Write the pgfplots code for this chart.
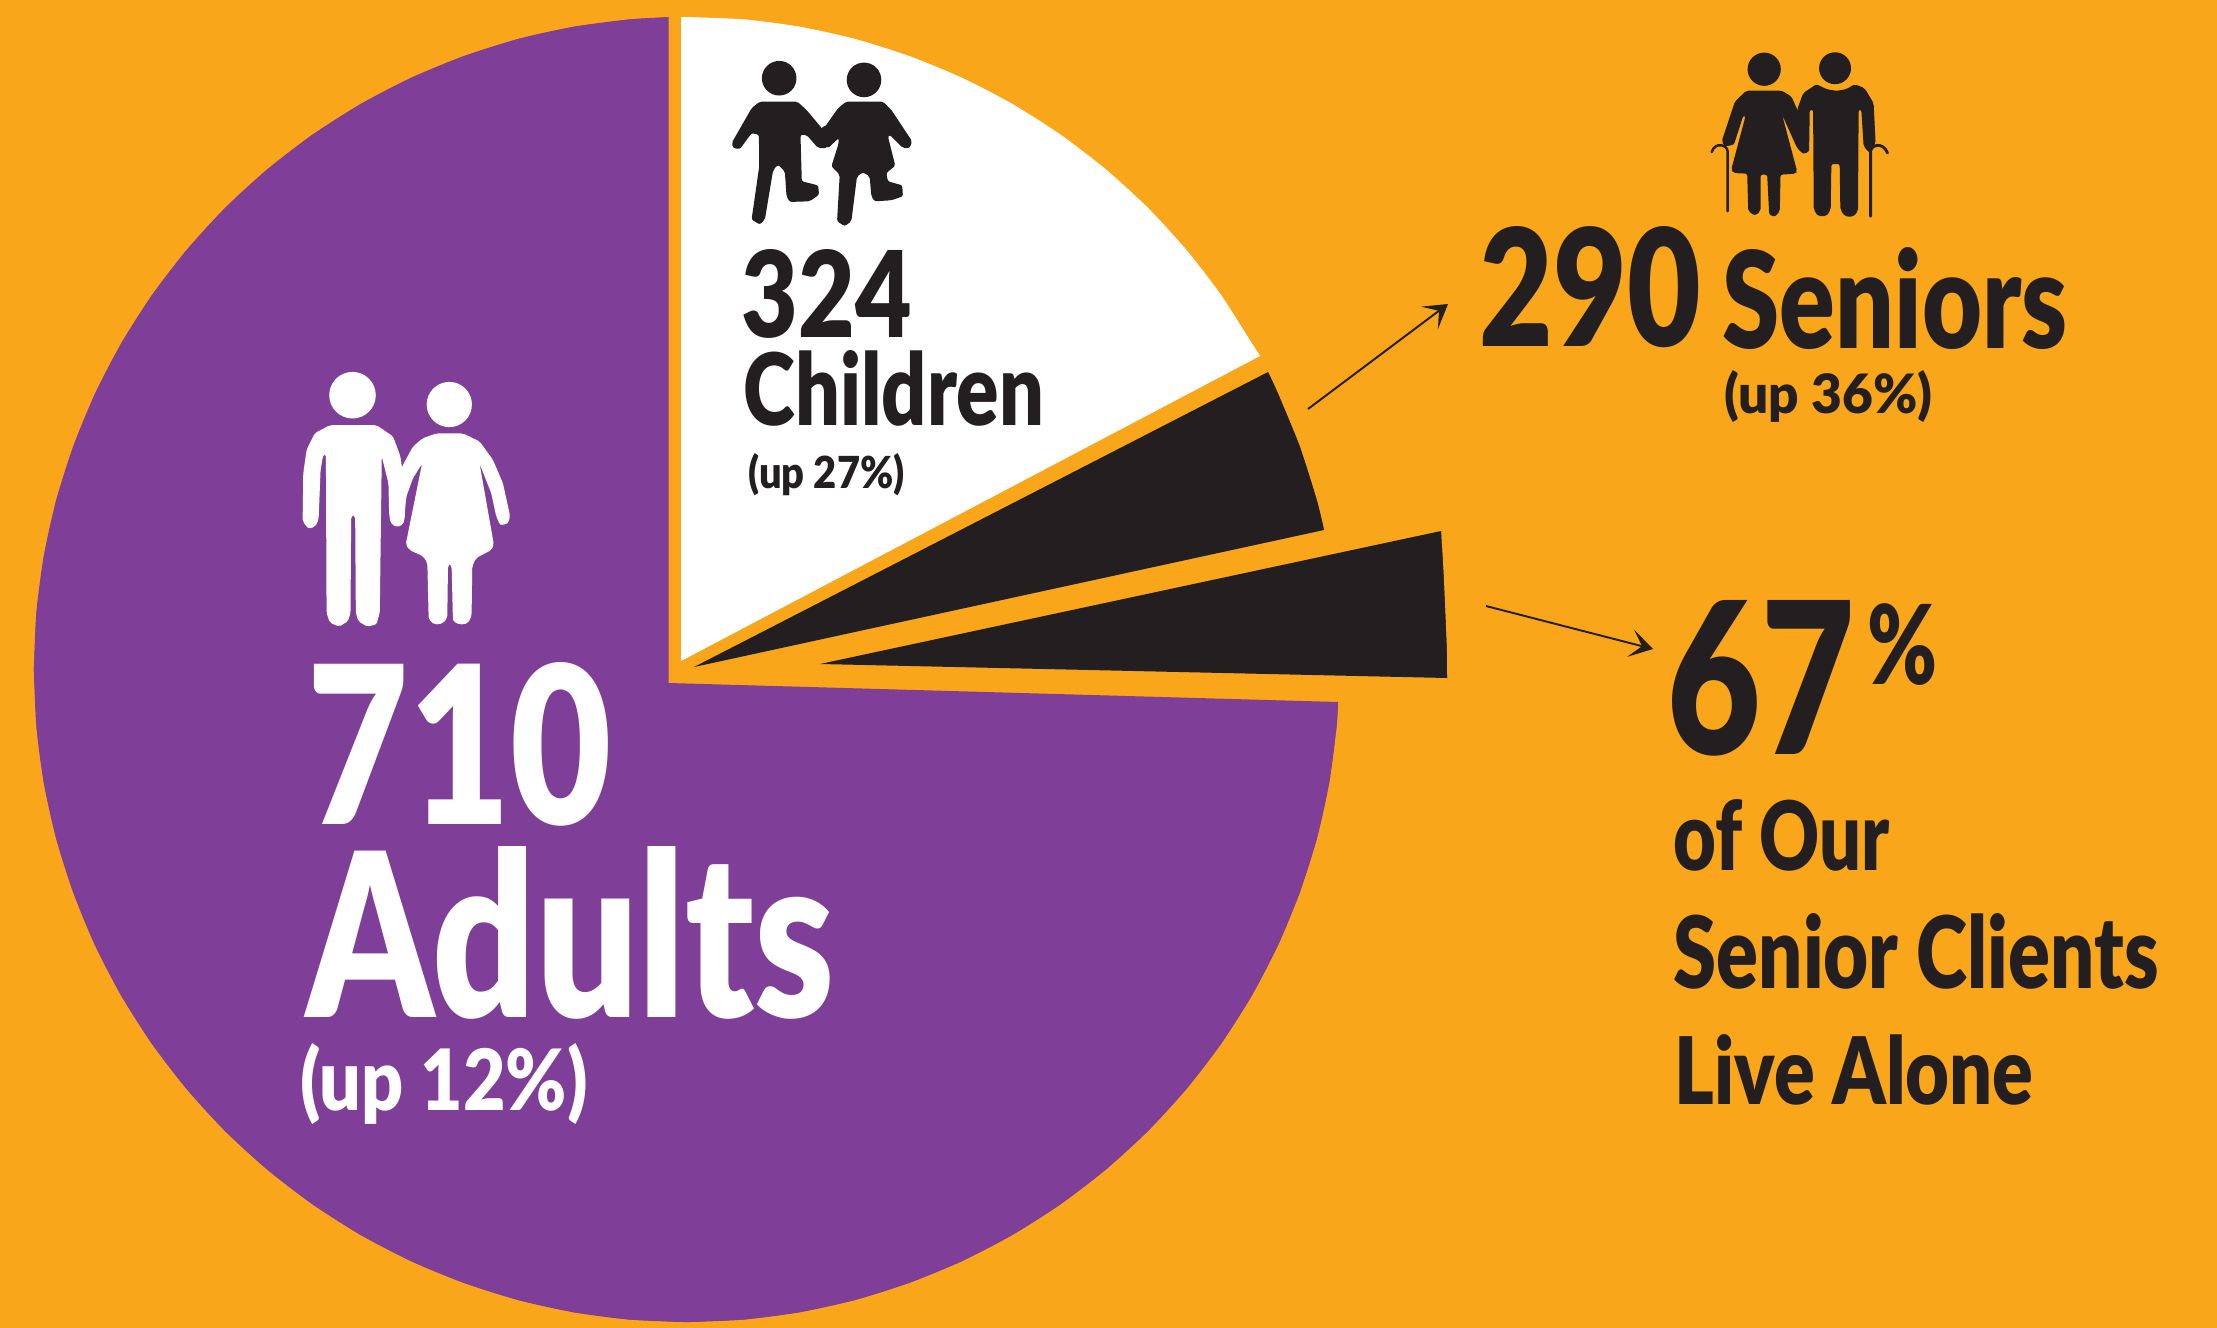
\documentclass[border=0pt]{standalone}
\usepackage{fontspec}
\usepackage{graphicx}
\usepackage{pgfplots}
\pgfplotsset{compat=1.18}
\usetikzlibrary{arrows.meta}
\setmainfont{Lato Black}
\definecolor{bgo}{HTML}{FAA61A}
\definecolor{pur}{HTML}{7F3F98}
\definecolor{blk}{HTML}{231F20}
\newcommand{\tx}[6][blk]{\node[anchor=base west,inner sep=0pt,text=#1] at (axis cs:#2,#3){\resizebox{#4cm}{#5cm}{#6}};}
\begin{document}
\begin{tikzpicture}
\begin{axis}[scale only axis,width=22.17cm,height=13.28cm,xmin=0,xmax=2217,ymin=0,ymax=1328,y dir=reverse,hide axis]
\addplot[fill=bgo,draw=none] coordinates {(0,0)(2217,0)(2217,1328)(0,1328)} -- cycle;
% adults
\addplot[fill=pur,draw=none] coordinates {(668.5,683)(668.5,17.2)(629.6,19.4)(573.2,26.8)(517.6,39.1)(463.3,56.3)(410.7,78.0)(360.2,104.3)(312.2,134.9)(267.0,169.6)(225.0,208.0)(186.6,250.0)(151.9,295.2)(121.3,343.2)(95.0,393.7)(73.3,446.3)(56.1,500.6)(43.8,556.2)(36.4,612.6)(33.9,669.5)(36.4,726.4)(43.8,782.8)(56.1,838.4)(73.3,892.7)(95.0,945.3)(121.3,995.8)(151.9,1043.8)(186.6,1089.0)(225.0,1131.0)(267.0,1169.4)(312.2,1204.1)(360.2,1234.7)(410.7,1261.0)(463.3,1282.7)(517.6,1299.9)(573.2,1312.2)(629.6,1319.6)(686.5,1322.1)(743.4,1319.6)(799.8,1312.2)(855.4,1299.9)(909.7,1282.7)(962.3,1261.0)(1012.8,1234.7)(1060.8,1204.1)(1106.0,1169.4)(1148.0,1131.0)(1186.4,1089.0)(1221.1,1043.8)(1251.7,995.8)(1278.0,945.3)(1299.7,892.7)(1316.9,838.4)(1329.2,782.8)(1336.6,726.4)(1338,702)} -- cycle;
\addplot[fill=pur,draw=none,smooth] coordinates {(668.5,17.2)(629.6,19.4)(573.2,26.8)(517.6,39.1)(463.3,56.3)(410.7,78.0)(360.2,104.3)(312.2,134.9)(267.0,169.6)(225.0,208.0)(186.6,250.0)(151.9,295.2)(121.3,343.2)(95.0,393.7)(73.3,446.3)(56.1,500.6)(43.8,556.2)(36.4,612.6)(33.9,669.5)};
\addplot[fill=pur,draw=none,smooth] coordinates {(33.9,669.5)(36.4,726.4)(43.8,782.8)(56.1,838.4)(73.3,892.7)(95.0,945.3)(121.3,995.8)(151.9,1043.8)(186.6,1089.0)(225.0,1131.0)(267.0,1169.4)(312.2,1204.1)(360.2,1234.7)(410.7,1261.0)(463.3,1282.7)(517.6,1299.9)(573.2,1312.2)(629.6,1319.6)(686.5,1322.1)};
\addplot[fill=pur,draw=none,smooth] coordinates {(686.5,1322.1)(743.4,1319.6)(799.8,1312.2)(855.4,1299.9)(909.7,1282.7)(962.3,1261.0)(1012.8,1234.7)(1060.8,1204.1)(1106.0,1169.4)(1148.0,1131.0)(1186.4,1089.0)(1221.1,1043.8)(1251.7,995.8)(1278.0,945.3)(1299.7,892.7)(1316.9,838.4)(1329.2,782.8)(1336.6,726.4)(1338,702)};
% children
\addplot[fill=white,draw=none] coordinates {(681,661)(681,17)(743.4,19.4)(799.8,26.8)(855.4,39.1)(909.7,56.3)(962.3,78.0)(1012.8,104.3)(1060.8,134.9)(1106.0,169.6)(1148.0,208.0)(1186.4,250.0)(1221.1,295.2)(1251.7,343.2)(1260,356)} -- cycle;
\addplot[fill=white,draw=none,smooth] coordinates {(681,17)(743.4,19.4)(799.8,26.8)(855.4,39.1)(909.7,56.3)(962.3,78.0)(1012.8,104.3)(1060.8,134.9)(1106.0,169.6)(1148.0,208.0)(1186.4,250.0)(1221.1,295.2)(1251.7,343.2)(1260,356)};
% seniors
\addplot[fill=blk,draw=none] coordinates {(694,667)(1268,372)(1278.0,393.7)(1299.7,446.3)(1316.9,500.6)(1324,530)} -- cycle;
\addplot[fill=blk,draw=none,smooth] coordinates {(1268,372)(1278.0,393.7)(1299.7,446.3)(1316.9,500.6)(1324,530)};
\addplot[fill=blk,draw=none] coordinates {(820,664)(1441,531)(1443.5,575)(1445.5,620)(1446.7,650)(1447,678)} -- cycle;
\addplot[fill=blk,draw=none,smooth] coordinates {(1441,531)(1443.5,575)(1445.5,620)(1446.7,650)(1447,678)};
% arrows
\addplot[blk,line width=0.55pt,-{Stealth[length=6.6pt,width=8pt,inset=3.4pt]}] coordinates {(1308,409)(1448,304)};
\addplot[blk,line width=0.55pt,-{Stealth[length=6.6pt,width=8pt,inset=3.4pt]}] coordinates {(1486,606)(1653,649)};
% text
\tx[white]{307}{824}{3.04}{1.62}{710}
\tx[white]{305.5}{1017}{5.285}{1.71}{Adults}
\tx[white]{300}{1110}{2.87}{0.67}{(up 12\%)}
\tx{741}{337}{1.70}{0.88}{324}
\tx{743}{425}{3.00}{0.75}{Children}
\tx{748}{488}{1.56}{0.35}{(up 27\%)}
\tx{1479}{346}{2.21}{1.20}{290}
\tx{1722}{348}{3.45}{1.01}{Seniors}
\tx{1724}{413}{2.08}{0.43}{(up 36\%)}
\tx{1667}{754}{2.70}{1.54}{67\hspace{.08em}\raisebox{.33em}{\scalebox{.52}{\%}}}
\tx{1673}{870}{2.16}{0.71}{of Our}
\tx{1673}{988}{4.85}{0.75}{Senior Clients}
\tx{1674}{1104}{3.59}{0.70}{Live Alone}
\end{axis}
% adults icon
\begin{scope}[shift={(2.80cm,9.88cm)},x=0.003333cm,y=-0.003333cm]
\fill[white] (218,166) circle[radius=70];
\fill[white] (509,194) circle[radius=68];
\fill[white,rounded corners=0.6pt] (150,256)--(290,256)--(340,290)--(362,350)--(372,420)--(376,530)--(370,555)--(350,563)--(332,550)--(328,520)--(326,430)--(306,350)--(300,820)--(290,855)--(262,862)--(235,845)--(228,820)--(226,530)--(220,526)--(214,530)--(212,820)--(205,845)--(178,862)--(150,850)--(140,820)--(138,345)--(130,345)--(122,390)--(116,540)--(105,562)--(85,567)--(68,545)--(70,400)--(80,330)--(105,280)--cycle;
\fill[white,rounded corners=0.6pt] (470,281)--(550,281)--(600,305)--(640,360)--(670,430)--(692,530)--(685,552)--(662,557)--(650,530)--(635,460)--(600,372)--(643,615)--(635,632)--(590,655)--(578,680)--(576,830)--(565,852)--(540,856)--(520,845)--(516,680)--(510,672)--(505,680)--(503,835)--(490,852)--(465,856)--(447,840)--(443,670)--(430,650)--(390,632)--(378,615)--(427,372)--(400,415)--(380,470)--(374,530)--(350,560)--(335,530)--(345,440)--(370,375)--(400,320)--(430,295)--cycle;
\end{scope}
% children icon
\begin{scope}[shift={(7.10cm,12.88cm)},x=0.003333cm,y=-0.003333cm]
\fill[blk] (208,115) circle[radius=52];
\fill[blk] (463,120) circle[radius=52];
\fill[blk,rounded corners=0.6pt] (150,185)--(262,185)--(290,210)--(330,258)--(365,300)--(350,325)--(325,325)--(290,285)--(272,285)--(276,425)--(325,437)--(328,465)--(300,485)--(240,487)--(230,470)--(225,395)--(205,375)--(190,390)--(165,540)--(150,555)--(125,540)--(148,380)--(147,285)--(125,280)--(90,328)--(70,325)--(65,310)--(125,205)--cycle;
\fill[blk,rounded corners=0.6pt] (410,185)--(520,185)--(545,210)--(608,305)--(600,325)--(580,325)--(540,285)--(535,290)--(557,378)--(530,400)--(535,425)--(578,437)--(580,470)--(545,482)--(495,485)--(485,470)--(480,410)--(460,398)--(442,410)--(425,545)--(405,560)--(382,545)--(390,405)--(365,380)--(387,310)--(387,295)--(355,325)--(335,310)--(335,262)--(345,262)--(385,205)--cycle;
\end{scope}
% seniors icon
\begin{scope}[shift={(16.90cm,12.98cm)},x=0.003333cm,y=-0.003333cm]
\fill[blk] (223,118) circle[radius=50];
\fill[blk] (436,115) circle[radius=48];
\fill[blk,rounded corners=0.6pt] (170,182)--(275,182)--(305,200)--(325,245)--(358,350)--(358,365)--(340,373)--(322,355)--(277,255)--(322,425)--(318,432)--(272,435)--(270,545)--(255,562)--(238,555)--(232,435)--(212,435)--(212,545)--(195,558)--(175,545)--(172,432)--(130,430)--(124,420)--(167,258)--(160,258)--(132,345)--(105,350)--(95,335)--(135,215)--cycle;
\fill[blk,rounded corners=0.6pt] (380,163)--(410,178)--(440,183)--(470,178)--(495,163)--(525,175)--(552,220)--(558,340)--(540,370)--(522,350)--(515,240)--(507,240)--(505,545)--(490,562)--(465,560)--(452,540)--(450,403)--(425,403)--(423,540)--(410,560)--(385,560)--(372,540)--(370,240)--(360,240)--(358,365)--(340,373)--(322,330)--(322,240)--(340,190)--cycle;
\draw[blk,line width=0.7pt,line cap=round] (113,545)--(113,365) .. controls (113,345) and (75,335) .. (65,367);
\draw[blk,line width=0.8pt,line cap=round] (543,560)--(543,365) .. controls (545,345) and (580,335) .. (594,370);
\end{scope}
\end{tikzpicture}
\end{document}
